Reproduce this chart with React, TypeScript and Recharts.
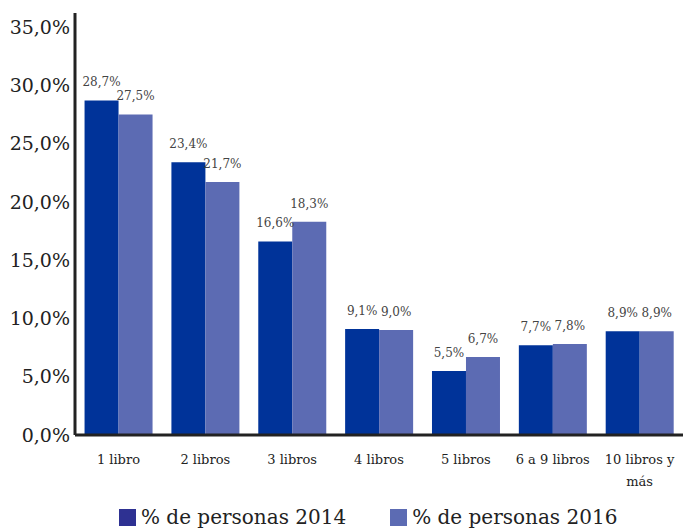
import { BarChart, Bar, XAxis, YAxis, LabelList, Legend } from "recharts";

const CATEGORIES = ["1 libro", "2 libros", "3 libros", "4 libros", "5 libros", "6 a 9 libros", "10 libros y|más"];
const PERSONAS_2014 = [28.7, 23.4, 16.6, 9.1, 5.5, 7.7, 8.9];
const PERSONAS_2016 = [27.5, 21.7, 18.3, 9.0, 6.7, 7.8, 8.9];
const Y_TICKS = [0, 5, 10, 15, 20, 25, 30, 35];

const DARK = "#003399";
const LIGHT = "#5c6bb3";
const FONT = "DejaVu Serif";

const data = CATEGORIES.map((c, i) => ({ c, a: PERSONAS_2014[i], b: PERSONAS_2016[i] }));

const pct = (v: number) => v.toFixed(1).replace(".", ",") + "%";

function CatTick({ x, y, payload }: any) {
  const lines = String(payload.value).split("|");
  return (
    <text x={x} y={y} textAnchor="middle" fontSize={13} fill="#222" style={{ fontFamily: FONT }}>
      {lines.map((l, i) => (
        <tspan key={i} x={x} dy={i === 0 ? 21 : 22}>
          {l}
        </tspan>
      ))}
    </text>
  );
}

function LegendBox() {
  const items = [
    { name: "% de personas 2014", color: "#2e3192" },
    { name: "% de personas 2016", color: LIGHT },
  ];
  return (
    <div
      style={{
        display: "flex",
        gap: 44,
        paddingLeft: 119,
        marginTop: 10,
        fontFamily: FONT,
        fontSize: 20,
        color: "#222",
      }}
    >
      {items.map((it) => (
        <span key={it.name} style={{ display: "flex", alignItems: "center", gap: 5 }}>
          <span style={{ width: 17, height: 17, background: it.color, display: "inline-block" }} />
          {it.name}
        </span>
      ))}
    </div>
  );
}

export default function App() {
  return (
    <div style={{ position: "absolute", left: 0, top: 0, background: "#fff", fontFamily: FONT }}>
      <BarChart
        width={683}
        height={529}
        data={data}
        margin={{ top: 13, right: 0, bottom: 0, left: 0 }}
        barCategoryGap="11%"
        barGap={0}
        style={{ fontFamily: FONT }}
      >
        <YAxis
          domain={[0, 36.2]}
          ticks={Y_TICKS}
          tickFormatter={pct}
          width={75}
          tickSize={0}
          tickMargin={5}
          axisLine={{ stroke: "#222", strokeWidth: 3 }}
          tick={{ fontSize: 19, fill: "#222" }}
          interval={0}
        />
        <XAxis
          dataKey="c"
          height={60}
          tickLine={false}
          axisLine={{ stroke: "#222", strokeWidth: 3 }}
          tick={<CatTick />}
          interval={0}
        />
        <Legend verticalAlign="bottom" height={34} content={<LegendBox />} />
        <Bar dataKey="a" fill={DARK} isAnimationActive={false}>
          <LabelList dataKey="a" position="top" offset={14} formatter={pct} fontSize={12} fill="#444" />
        </Bar>
        <Bar dataKey="b" fill={LIGHT} isAnimationActive={false}>
          <LabelList dataKey="b" position="top" offset={14} formatter={pct} fontSize={12} fill="#444" />
        </Bar>
      </BarChart>
    </div>
  );
}
